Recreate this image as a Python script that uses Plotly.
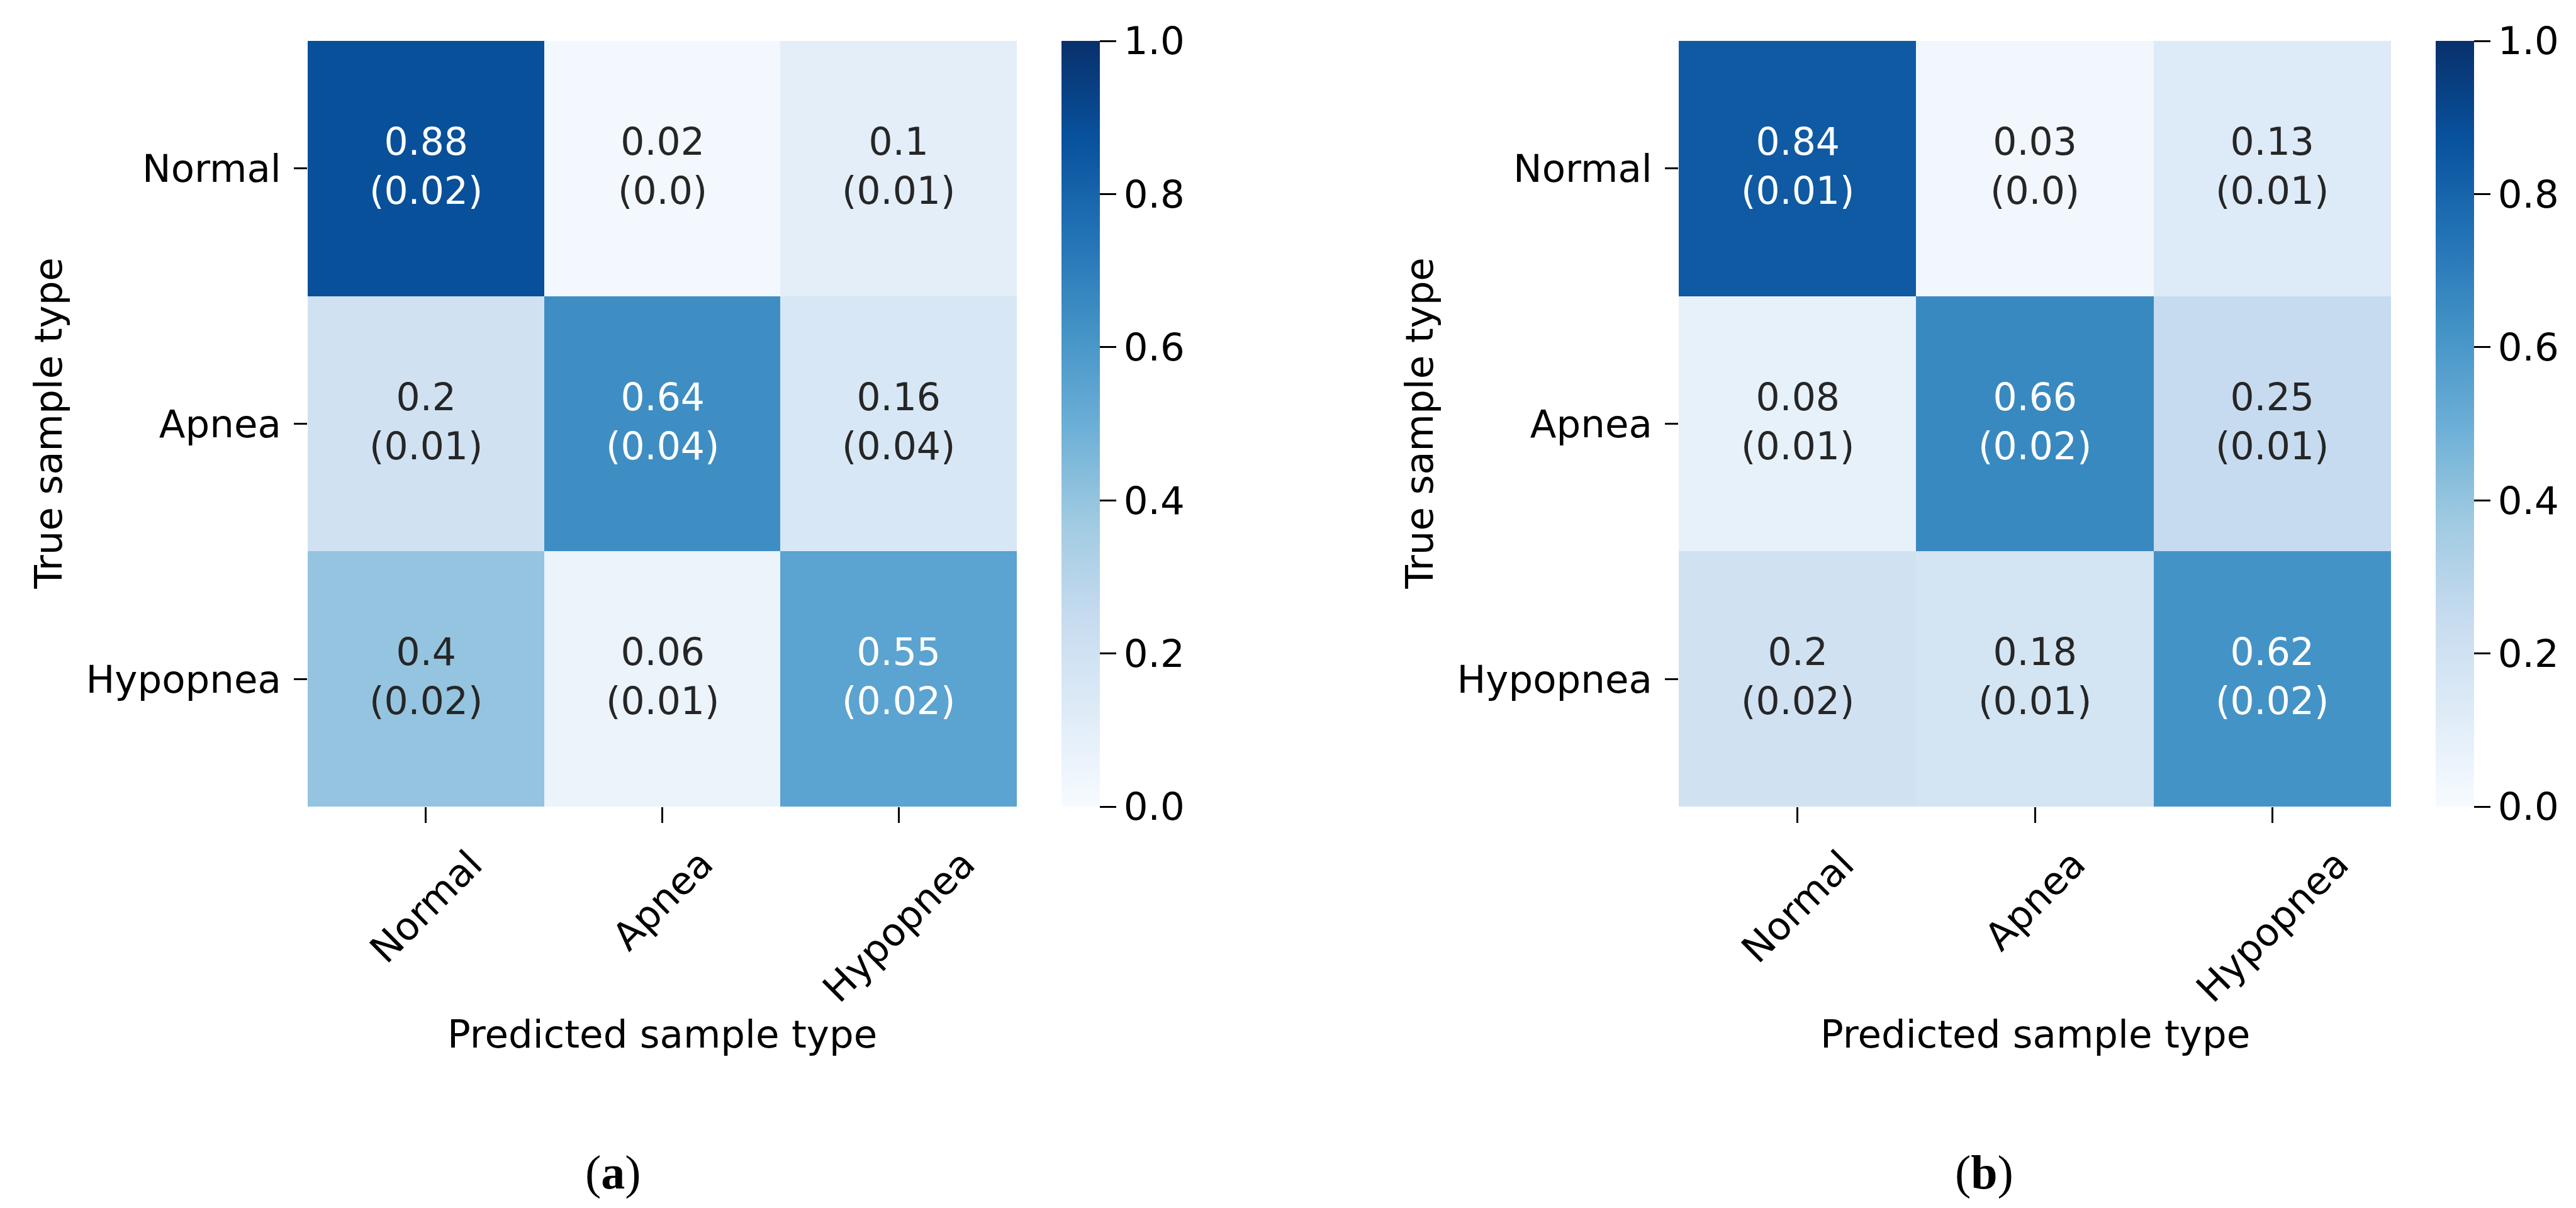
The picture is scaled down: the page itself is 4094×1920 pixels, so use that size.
import plotly.graph_objects as go

# ---------------- data ----------------
classes = ["Normal", "Apnea", "Hypopnea"]

# panel (a): mean confusion matrix and (std)
mean_a = [[0.88, 0.02, 0.1],
          [0.2, 0.64, 0.16],
          [0.4, 0.06, 0.55]]
std_a = [[0.02, 0.0, 0.01],
         [0.01, 0.04, 0.04],
         [0.02, 0.01, 0.02]]

# panel (b)
mean_b = [[0.84, 0.03, 0.13],
          [0.08, 0.66, 0.25],
          [0.2, 0.18, 0.62]]
std_b = [[0.01, 0.0, 0.01],
         [0.01, 0.02, 0.01],
         [0.02, 0.01, 0.02]]

cbar_ticks = [0.0, 0.2, 0.4, 0.6, 0.8, 1.0]
x_title = "Predicted sample type"
y_title = "True sample type"
panel_labels = ["(<b>a</b>)", "(<b>b</b>)"]

# ---------------- style ----------------
W, H = 4094, 1920
FONT = "DejaVu Sans"
FS = 61
FS_CELL = 60
blues = [(247, 251, 255), (222, 235, 247), (198, 219, 239), (158, 202, 225),
         (107, 174, 214), (66, 146, 198), (33, 113, 181), (8, 81, 156), (8, 48, 107)]
colorscale = [[i / 8, "rgb(%d,%d,%d)" % c] for i, c in enumerate(blues)]


def color_at(v):
    v = min(max(v, 0.0), 1.0) * 8
    i = min(int(v), 7)
    f = v - i
    return tuple(blues[i][k] + (blues[i + 1][k] - blues[i][k]) * f for k in range(3))


def text_color(v):
    r, g, b = [c / 255 for c in color_at(v)]
    lin = [c / 12.92 if c <= 0.03928 else ((c + 0.055) / 1.055) ** 2.4 for c in (r, g, b)]
    lum = 0.2126 * lin[0] + 0.7152 * lin[1] + 0.0722 * lin[2]
    return "rgb(38,38,38)" if lum > 0.408 else "white"


def px_x(p):
    return p / W


def px_y(p):
    return 1 - p / H


# pixel layout
panels = [
    dict(x0=481, x1=1608, cb=1679, ylab=68, lab=966),
    dict(x0=2660, x1=3792, cb=3863, ylab=2247, lab=3145),
]
top, bottom = 57, 1274

fig = go.Figure()
annotations = []
data_sets = [(mean_a, std_a), (mean_b, std_b)]

for k, (pan, (m, s)) in enumerate(zip(panels, data_sets)):
    xa = "x" if k == 0 else "x2"
    ya = "y" if k == 0 else "y2"
    fig.add_trace(go.Heatmap(
        z=m, x=classes, y=classes, xaxis=xa, yaxis=ya,
        zmin=0, zmax=1, colorscale=colorscale, hoverinfo="skip",
        colorbar=dict(
            x=px_x(pan["cb"]), xanchor="left", xpad=0, ypad=0,
            y=px_y((top + bottom) / 2), yanchor="middle",
            len=bottom - top, lenmode="pixels",
            thickness=61, thicknessmode="pixels",
            outlinewidth=0, ticks="outside", ticklen=26, tickwidth=3,
            tickcolor="black", tickvals=cbar_ticks, tickformat=".1f",
            tickfont=dict(family=FONT, size=FS, color="black"),
        ),
    ))
    # cell annotations
    for i, row in enumerate(m):
        for j, v in enumerate(row):
            annotations.append(dict(
                x=classes[j], y=classes[i], xref=xa, yref=ya, yshift=4,
                text=f"{v}<br>({s[i][j]})", showarrow=False,
                font=dict(family=FONT, size=FS_CELL, color=text_color(v)),
            ))
    # rotated x tick labels (centered on tick)
    for c in classes:
        annotations.append(dict(
            x=c, xref=xa, y=px_y(1326), yref="paper", yanchor="top",
            text=c, textangle=-45, showarrow=False,
            font=dict(family=FONT, size=FS, color="black"),
        ))
    # axis titles
    annotations.append(dict(
        x=px_x((pan["x0"] + pan["x1"]) / 2), y=px_y(1635), xref="paper", yref="paper",
        text=x_title, showarrow=False, xanchor="center", yanchor="middle",
        font=dict(family=FONT, size=FS, color="black"),
    ))
    annotations.append(dict(
        x=px_x(pan["ylab"]), y=px_y((top + bottom) / 2), xref="paper", yref="paper",
        text=y_title, showarrow=False, textangle=-90, xanchor="center", yanchor="middle",
        font=dict(family=FONT, size=FS, color="black"),
    ))
    annotations.append(dict(
        x=px_x(pan["lab"]), y=px_y(1855), xref="paper", yref="paper",
        text=panel_labels[k], showarrow=False, xanchor="center", yanchor="middle",
        font=dict(family="Liberation Serif", size=76, color="black"),
    ))

xaxis_common = dict(showgrid=False, zeroline=False, showline=False, showticklabels=False,
                    ticks="outside", ticklen=25, tickwidth=3, tickcolor="black")
yaxis_common = dict(showgrid=False, zeroline=False, showline=False, autorange="reversed",
                    ticks="outside", ticklen=21, tickwidth=3, tickcolor="black",
                    ticklabelstandoff=8,
                    tickfont=dict(family=FONT, size=FS, color="black"))

fig.update_layout(
    width=W, height=H,
    margin=dict(l=0, r=0, t=0, b=0),
    paper_bgcolor="white", plot_bgcolor="white",
    showlegend=False,
    xaxis=dict(domain=[px_x(panels[0]["x0"]), px_x(panels[0]["x1"])], anchor="y", **xaxis_common),
    yaxis=dict(domain=[px_y(bottom), px_y(top)], anchor="x", **yaxis_common),
    xaxis2=dict(domain=[px_x(panels[1]["x0"]), px_x(panels[1]["x1"])], anchor="y2", **xaxis_common),
    yaxis2=dict(domain=[px_y(bottom), px_y(top)], anchor="x2", **yaxis_common),
    annotations=annotations,
    font=dict(family=FONT, size=FS, color="black"),
)

fig.write_html("out.html")
